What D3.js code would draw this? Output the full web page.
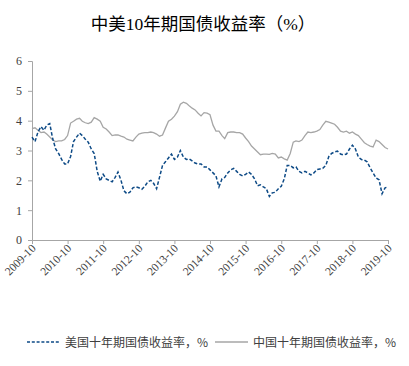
<!DOCTYPE html>
<html><head><meta charset="utf-8">
<script src="https://cdn.jsdelivr.net/npm/d3@7"></script>
<style>body{margin:0;background:#fff;}svg{display:block;}</style>
</head><body>
<svg id="c" width="409" height="366"></svg>
<script>
const startMonth = "2009-10";
const tickLabels = ["2009-10","2010-10","2011-10","2012-10","2013-10","2014-10","2015-10","2016-10","2017-10","2018-10","2019-10"];
const yTicks = [0,1,2,3,4,5,6];
const seriesNames = ["美国十年期国债收益率，%","中国十年期国债收益率，%"];
// monthly values from 2009-10 to 2019-10
const usYield = [3.45,3.30,3.62,3.80,3.68,3.85,3.90,3.40,3.05,2.90,2.70,2.55,
 2.55,2.80,3.30,3.45,3.58,3.50,3.38,3.28,3.05,2.90,2.30,1.97,
 2.20,2.05,2.00,1.95,2.10,2.28,2.00,1.65,1.55,1.60,1.75,1.78,
 1.75,1.70,1.80,1.95,2.00,1.90,1.72,2.10,2.50,2.62,2.75,2.88,
 2.70,2.78,3.00,2.78,2.70,2.72,2.65,2.58,2.55,2.55,2.45,2.45,
 2.35,2.25,2.15,1.78,2.05,2.10,2.25,2.35,2.40,2.30,2.20,2.15,
 2.20,2.28,2.20,2.05,1.82,1.85,1.78,1.72,1.46,1.58,1.60,1.72,
 1.80,2.05,2.50,2.50,2.42,2.45,2.30,2.25,2.30,2.25,2.18,2.25,
 2.36,2.38,2.40,2.50,2.80,2.90,2.95,2.98,2.88,2.85,2.88,3.05,
 3.18,3.05,2.78,2.70,2.68,2.62,2.42,2.25,2.08,2.02,1.55,1.75,1.78];
const cnYield = [3.73,3.76,3.68,3.60,3.62,3.55,3.45,3.35,3.30,3.32,3.32,3.37,
 3.50,3.92,3.98,4.05,4.08,3.98,3.93,3.90,3.95,4.10,4.05,3.98,
 3.78,3.72,3.62,3.50,3.52,3.52,3.48,3.45,3.38,3.35,3.32,3.45,
 3.55,3.58,3.60,3.60,3.62,3.60,3.55,3.48,3.52,3.75,3.98,4.05,
 4.15,4.30,4.55,4.62,4.58,4.50,4.42,4.36,4.25,4.16,4.27,4.25,
 4.20,3.85,3.65,3.65,3.50,3.40,3.60,3.62,3.62,3.60,3.60,3.55,
 3.42,3.30,3.15,3.05,2.95,2.86,2.88,2.88,2.87,2.90,2.88,2.75,
 2.78,2.72,2.68,2.90,3.28,3.32,3.30,3.35,3.50,3.62,3.60,3.62,
 3.65,3.70,3.85,3.98,3.95,3.92,3.88,3.78,3.65,3.62,3.65,3.58,
 3.62,3.55,3.50,3.38,3.26,3.20,3.15,3.12,3.35,3.30,3.20,3.10,3.05,3.12,3.22];

const svg = d3.select("#c");
const serif = "'Liberation Serif','Times New Roman',serif";
const cjk = "'Noto Sans CJK SC','Noto Sans',sans-serif";
const parse = d3.timeParse("%Y-%m");
const t0 = parse(startMonth);
const dates = usYield.map((_, i) => d3.timeMonth.offset(t0, i));

const x = d3.scaleTime().domain([t0, dates[dates.length - 1]]).range([32, 388]);
const y = d3.scaleLinear().domain([0, 6]).range([240, 61]);

// title
svg.append("text").attr("x", 203).attr("y", 30).attr("text-anchor", "middle")
  .attr("font-family", serif + ",'Noto Sans CJK SC'").attr("font-size", 17.5)
  .attr("fill", "#000").text("中美10年期国债收益率（%）");

// y axis
const yAxis = svg.append("g").attr("transform", "translate(32,0)")
  .call(d3.axisLeft(y).tickValues(yTicks).tickSize(4).tickPadding(6).tickFormat(d3.format("d")));
yAxis.select(".domain").attr("stroke", "#a6a6a6");
yAxis.selectAll(".tick line").attr("stroke", "#a6a6a6");
yAxis.selectAll("text").attr("font-family", serif).attr("font-size", 12).attr("fill", "#404040");

// x axis
const tickDates = tickLabels.map(parse);
const xAxis = svg.append("g").attr("transform", "translate(0,240)")
  .call(d3.axisBottom(x).tickValues(tickDates).tickSize(4).tickSizeOuter(0)
  .tickFormat((d, i) => tickLabels[i]));
xAxis.select(".domain").attr("stroke", "#a6a6a6");
xAxis.selectAll(".tick line").attr("stroke", "#a6a6a6");
xAxis.selectAll("text").attr("font-family", serif).attr("font-size", 11.5).attr("fill", "#404040")
  .attr("text-anchor", "end").attr("dy", 0).attr("y", 0)
  .attr("transform", "translate(4,9) rotate(-45)");

// lines
const line = arr => d3.line().defined(d => d != null)
  .x((d, i) => x(dates[i])).y(d => y(d))(arr);
svg.append("path").attr("d", line(cnYield)).attr("fill", "none")
  .attr("stroke", "#a6a6a6").attr("stroke-width", 1.3);
svg.append("path").attr("d", line(usYield)).attr("fill", "none")
  .attr("stroke", "#0d4a86").attr("stroke-width", 1.5).attr("stroke-dasharray", "3.5,2");

// legend
const lg = svg.append("g").attr("font-family", cjk).attr("font-size", 12).attr("fill", "#404040");
lg.append("line").attr("x1", 27).attr("x2", 60).attr("y1", 342).attr("y2", 342)
  .attr("stroke", "#0d4a86").attr("stroke-width", 1.5).attr("stroke-dasharray", "3,1.8");
lg.append("text").attr("x", 65).attr("y", 346.5).text(seriesNames[0]);
lg.append("line").attr("x1", 215).attr("x2", 248).attr("y1", 342).attr("y2", 342)
  .attr("stroke", "#a6a6a6").attr("stroke-width", 1.3);
lg.append("text").attr("x", 253).attr("y", 346.5).text(seriesNames[1]);
</script>
</body></html>
